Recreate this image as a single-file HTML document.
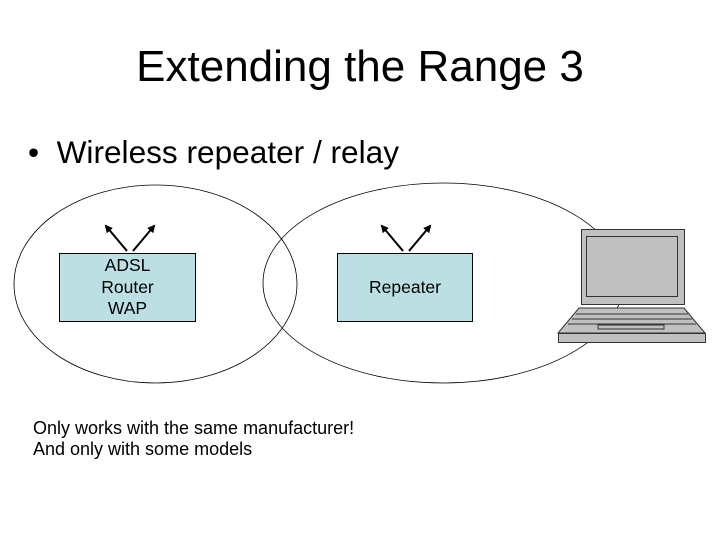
<!DOCTYPE html>
<html><head><style>
body{margin:0;width:720px;height:540px;background:#fff;overflow:hidden;position:relative;font-family:"Liberation Sans",sans-serif}
.t{position:absolute;white-space:nowrap}
</style></head><body>
<div class="t" style="left:0;width:720px;text-align:center;top:42px;font-size:44px">Extending the Range 3</div>
<div class="t" style="left:28px;top:134px;font-size:31.6px">•&nbsp; Wireless repeater / relay</div>
<svg width="720" height="540" style="position:absolute;left:0;top:0">
<defs><marker id="a" markerWidth="8" markerHeight="8" refX="6" refY="4" orient="auto" markerUnits="userSpaceOnUse"><path d="M0,0 L8,4 L0,8 z" fill="#000"/></marker></defs>
<ellipse cx="155.5" cy="284" rx="141.5" ry="99" fill="none" stroke="#000" stroke-width="0.8"/>
<ellipse cx="443" cy="283" rx="180" ry="100" fill="none" stroke="#000" stroke-width="0.8"/>
<rect x="59.5" y="253.5" width="136" height="68" fill="#bcdfe3" stroke="#000" stroke-width="1"/>
<rect x="337.5" y="253.5" width="135" height="68" fill="#bcdfe3" stroke="#000" stroke-width="1"/>
<g stroke="#000" stroke-width="2" marker-end="url(#a)">
<line x1="127" y1="251" x2="106" y2="226"/><line x1="133" y1="251" x2="154" y2="226"/>
<line x1="403" y1="251" x2="382" y2="226"/><line x1="409" y1="251" x2="430" y2="226"/>
</g>
<g stroke="#333" stroke-width="1" fill="#c0c0c0">
<rect x="581.5" y="229.5" width="103" height="75"/>
<rect x="586.5" y="236.5" width="91" height="60"/>
<polygon points="579,308 684,308 705,333 558,333"/>
<rect x="558.5" y="333.5" width="147" height="9"/>
<line x1="576" y1="314" x2="688" y2="314"/>
<line x1="572" y1="319" x2="692" y2="319"/>
<line x1="568" y1="324" x2="696" y2="324"/>
<rect x="598" y="325" width="66" height="4"/>
</g>
</svg>
<div class="t" style="left:59px;width:137px;top:255px;text-align:center;font-size:17.5px;line-height:21.5px">ADSL<br>Router<br>WAP</div>
<div class="t" style="left:337px;width:136px;top:277px;text-align:center;font-size:17.5px">Repeater</div>
<div class="t" style="left:33px;top:418px;font-size:18px;line-height:21px">Only works with the same manufacturer!<br>And only with some models</div>
</body></html>
